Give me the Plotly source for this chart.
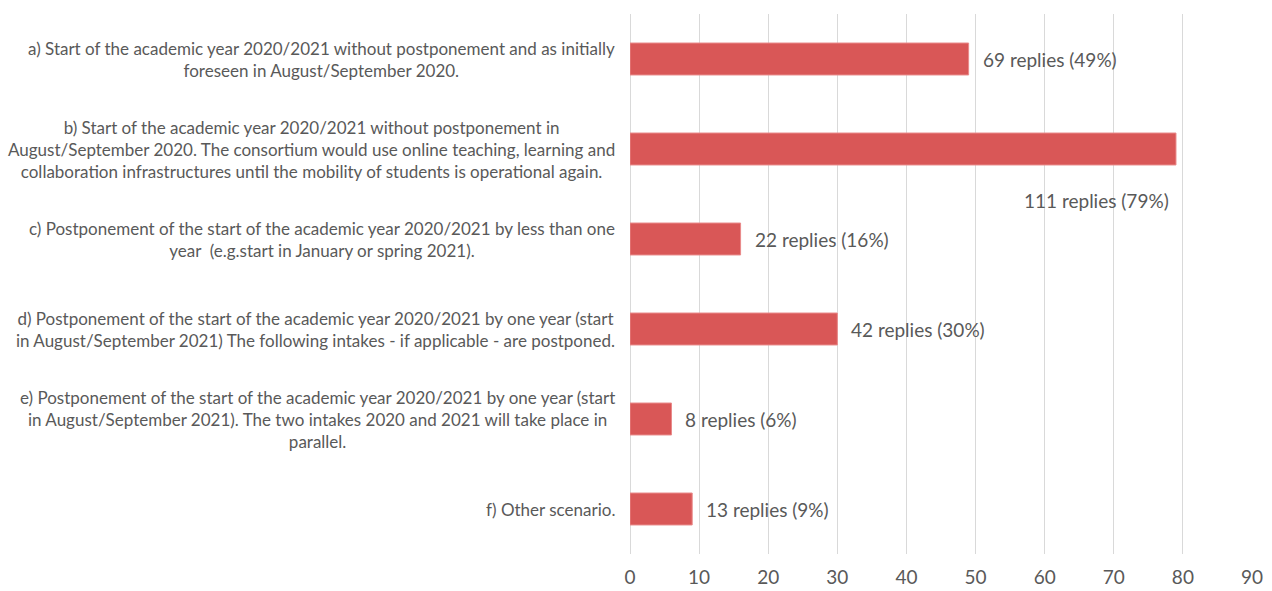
import plotly.graph_objects as go

categories = [
    "a) Start of the academic year 2020/2021 without postponement and as initially<br>foreseen in August/September 2020.",
    "b) Start of the academic year 2020/2021 without postponement in<br>August/September 2020. The consortium would use online teaching, learning and<br>collaboration infrastructures until the mobility of students is operational again.",
    "c) Postponement of the start of the academic year 2020/2021 by less than one<br>year  (e.g.start in January or spring 2021).",
    "d) Postponement of the start of the academic year 2020/2021 by one year (start<br>in August/September 2021) The following intakes - if applicable - are postponed.",
    "e) Postponement of the start of the academic year 2020/2021 by one year (start<br>in August/September 2021). The two intakes 2020 and 2021 will take place in<br>parallel.",
    "f) Other scenario.",
]
keys = ["a", "b", "c", "d", "e", "f"]
percent = [49, 79, 16, 30, 6, 9]
replies = [69, 111, 22, 42, 8, 13]
x_ticks = [0, 10, 20, 30, 40, 50, 60, 70, 80, 90]

FONT = "Lato"
TXT = "#595959"

fig = go.Figure()
fig.add_trace(go.Bar(
    y=keys, x=percent, orientation="h",
    marker=dict(color="#D95757", line=dict(color="#E98A8A", width=1)),
    width=0.355, hoverinfo="skip",
))

annotations = []
for k, cat in zip(keys, categories):
    annotations.append(dict(
        x=0, y=k, xref="paper", yref="y", text=cat, showarrow=False,
        xanchor="right", yanchor="middle", align="center", xshift=-13,
        font=dict(family=FONT, size=17, color=TXT),
    ))
for k, p, r in zip(keys, percent, replies):
    label = f"{r} replies ({p}%)"
    if p > 70:
        annotations.append(dict(
            x=p, y=k, xref="x", yref="y", text=label, showarrow=False,
            xanchor="right", yanchor="middle", xshift=-5, yshift=-51,
            font=dict(family=FONT, size=19, color=TXT),
        ))
    else:
        annotations.append(dict(
            x=p, y=k, xref="x", yref="y", text=label, showarrow=False,
            xanchor="left", yanchor="middle", xshift=12,
            font=dict(family=FONT, size=19, color=TXT),
        ))

fig.update_layout(
    width=1272, height=591,
    margin=dict(l=630, r=20, t=14, b=37, autoexpand=False),
    paper_bgcolor="white", plot_bgcolor="white",
    showlegend=False,
    annotations=annotations,
    xaxis=dict(range=[0, 90], tickvals=x_ticks, showgrid=True,
               gridcolor="#D9D9D9", gridwidth=1.4, zeroline=True,
               zerolinecolor="#D9D9D9", zerolinewidth=1.4,
               showline=False, ticks="", ticklabelstandoff=10,
               automargin=False,
               tickfont=dict(family=FONT, size=19, color=TXT)),
    yaxis=dict(categoryorder="array", categoryarray=keys, autorange="reversed",
               showticklabels=False, showgrid=False, zeroline=False,
               showline=False, ticks="", automargin=False),
)

fig.write_html("out.html", config={"displayModeBar": False},
               post_script="document.body.style.margin='0';document.body.style.overflow='hidden';")
